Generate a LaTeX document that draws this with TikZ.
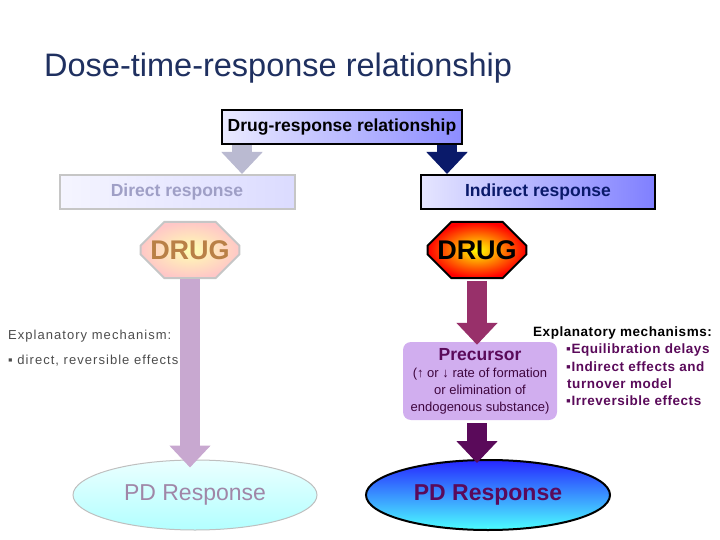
\documentclass[tikz,border=0pt]{standalone}
\usepackage{fontspec}
\setmainfont{Liberation Sans}
\usetikzlibrary{shapes.geometric,shapes.misc,arrows.meta}
\definecolor{titleblue}{HTML}{1F3060}
\definecolor{navy}{HTML}{0A1A6A}
\definecolor{grape}{HTML}{5A0A5A}
\definecolor{plum}{HTML}{98306A}
\definecolor{lilac}{HTML}{C9A0EC}
\definecolor{paleplum}{HTML}{C8A8D0}
\tikzset{
  rbox/.style={rectangle, minimum height=34pt, font=\fontsize{17.5}{20}\selectfont\bfseries},
  drug/.style={chamfered rectangle, chamfered rectangle xsep=14pt, chamfered rectangle ysep=14pt,
    minimum width=94pt, minimum height=56pt, inner sep=0pt, line width=2pt, font=\fontsize{27}{30}\selectfont\bfseries},
  pd/.style={ellipse, minimum width=244pt, minimum height=70pt, font=\fontsize{23}{26}\selectfont},
  blockarrow/.style={line width=20pt, -{Triangle[width=40pt,length=22pt]}},
  mech/.style={anchor=west, font=\fontsize{13.5}{16}\selectfont\bfseries\addfontfeature{LetterSpace=4}, text=grape, inner sep=0pt},
  lnote/.style={anchor=west, text=gray!60!black, font=\fontsize{13}{15}\selectfont\addfontfeature{LetterSpace=8}, inner sep=0pt},
}
\begin{document}
\begin{tikzpicture}[x=1pt,y=-1pt]
\useasboundingbox (0,0) rectangle (720,540);
% title
\node[anchor=west, text=titleblue, font=\fontsize{32.5}{38}\selectfont, inner sep=0pt] (title) at (44,68) {Dose-time-response relationship};
% top level
\node[rbox, draw=black, line width=2pt, left color=blue!8, right color=blue!45, minimum width=240pt] (top) at (342,127) {Drug-response relationship};
\node[rbox, draw=gray!45, line width=2pt, left color=blue!4, right color=blue!14, text=blue!25!gray!60, minimum width=235pt] (direct) at (177,192) {Direct response};
\node[rbox, draw=black, line width=2pt, left color=blue!10, right color=blue!50, text=navy, minimum width=234pt] (indirect) at (538,192) {Indirect response};
\coordinate (topL) at (242,145);
\coordinate (topR) at (447,145);
\draw[blockarrow, draw=blue!20!gray!45] (topL) -- (topL |- direct.north);
\draw[blockarrow, draw=navy] (topR) -- (topR |- indirect.north);
% drugs
\node[drug, draw=gray!45, inner color=yellow!30, outer color=red!22, text=orange!45!gray] (drugL) at (190,250) {DRUG};
\node[drug, draw=black, inner color=yellow, outer color=red, text=black] (drugR) at (477,250) {DRUG};
% left branch
\node[pd, draw=gray!50, line width=1pt, top color=cyan!8, bottom color=cyan!30, text=paleplum!80!black] (pdL) at (195,495) {PD Response};
\draw[blockarrow, draw=paleplum] (drugL.south) -- ([yshift=-8pt]drugL.south |- pdL.north);
\node[lnote] (mechL) at (8,336) {Explanatory mechanism:};
\node[lnote] (effL) at (8,361) {\char"25AA\ direct, reversible effects};
% right branch
\node[rounded corners=8pt, fill=lilac!85, minimum width=154pt, minimum height=78pt, align=center,
  font=\fontsize{13}{17}\selectfont, text=grape!70!black] (prec) at (480,381)
  {{\fontsize{17.5}{20}\selectfont\bfseries\color{grape}Precursor}\\(↑ or ↓ rate of formation\\or elimination of\\endogenous substance)};
\node[pd, draw=black, line width=2pt, top color=blue!85, bottom color=cyan!70, text=grape, font=\fontsize{23}{26}\selectfont\bfseries] (pdR) at (488,495) {PD Response};
\draw[blockarrow, draw=plum] ([yshift=-2pt]drugR.south) -- ([yshift=-3pt]drugR.south |- prec.north);
\draw[blockarrow, draw=grape] ([yshift=-3pt]drugR.south |- prec.south) -- ([yshift=-4pt]drugR.south |- pdR.north);
\node[mech, text=black] (mechR) at (533,333) {Explanatory mechanisms:};
\node[mech] (equil) at (566,350) {\char"25AA Equilibration delays};
\node[mech] (indir) at (566,367) {\char"25AA Indirect effects and};
\node[mech] (turn) at (567,384) {turnover model};
\node[mech] (irrev) at (566,401) {\char"25AA Irreversible effects};
\end{tikzpicture}
\end{document}
